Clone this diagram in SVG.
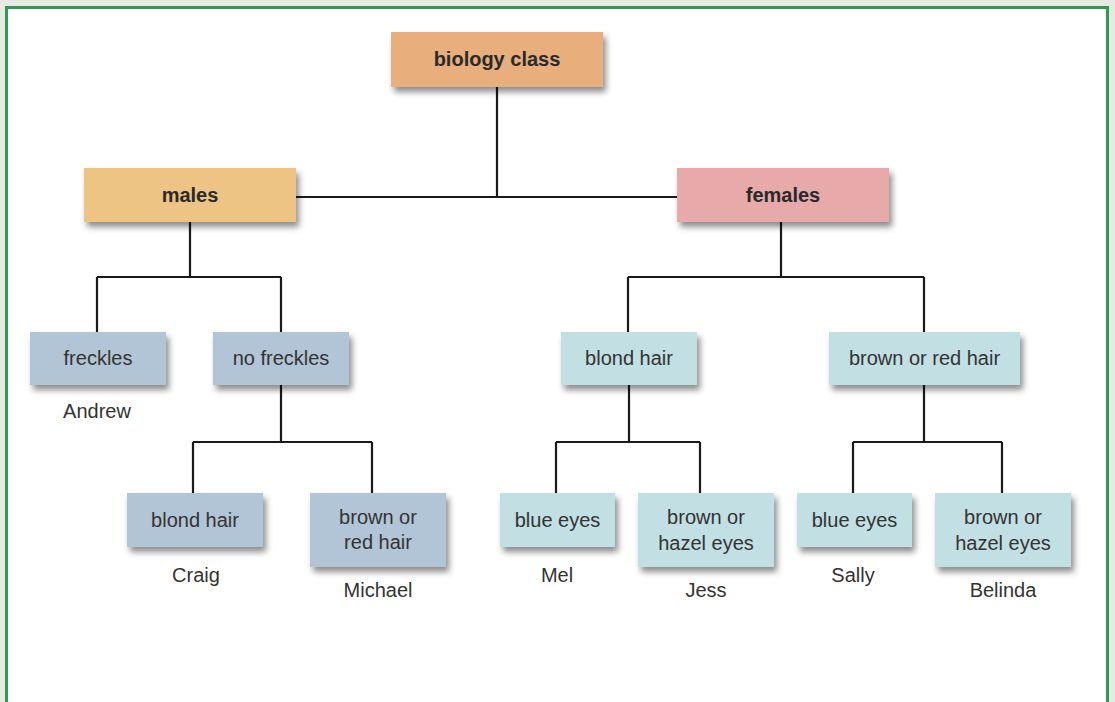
<svg xmlns="http://www.w3.org/2000/svg" width="1115" height="702" viewBox="0 0 1115 702">
<defs>
<filter id="sh" x="-10%" y="-20%" width="130%" height="160%">
<feDropShadow dx="3" dy="5" stdDeviation="3" flood-color="#000" flood-opacity="0.45"/>
</filter>
<style>
.b{filter:url(#sh)}
.t{font-family:"Liberation Sans",Arial,sans-serif;font-size:20px;fill:#333;text-anchor:middle}
.h{font-family:"Liberation Sans",Arial,sans-serif;font-size:20px;font-weight:bold;fill:#2a2a2a;text-anchor:middle}
.c{fill:none;stroke:#1a1a1a;stroke-width:2.2}
.blue{fill:#b2c5d6}
.teal{fill:#c2dfe3}
</style>
</defs>
<rect x="0" y="0" width="1115" height="702" fill="#e5ebe0"/>
<rect x="6.5" y="7.5" width="1101" height="720" fill="#fff" stroke="#2e9a55" stroke-width="3"/>
<g id="connectors" class="c">
<path d="M497 87V197M296 197H677"/>
<path d="M190 222V277M97 277H281M97 277V332M281 277V332"/>
<path d="M281 385V442M193 442H372M193 442V493M372 442V493"/>
<path d="M781 222V277M628 277H924M628 277V332M924 277V332"/>
<path d="M629 385V442M556 442H700M556 442V493M700 442V493"/>
<path d="M924 385V442M853 442H1002M853 442V493M1002 442V493"/>
</g>
<g id="biology-class"><rect class="b" x="391" y="32" width="212" height="55" fill="#e8ae7c"/><text class="h" x="497" y="66">biology class</text></g>
<g id="males"><rect class="b" x="84" y="168" width="212" height="54" fill="#eec484"/><text class="h" x="190" y="202">males</text></g>
<g id="females"><rect class="b" x="677" y="168" width="212" height="54" fill="#e8a9aa"/><text class="h" x="783" y="202">females</text></g>
<g id="freckles"><rect class="b blue" x="30" y="332" width="136" height="53"/><text class="t" x="98" y="365">freckles</text><text class="t" x="97" y="418">Andrew</text></g>
<g id="no-freckles"><rect class="b blue" x="213" y="332" width="136" height="53"/><text class="t" x="281" y="365">no freckles</text></g>
<g id="m-blond-hair"><rect class="b blue" x="127" y="493" width="136" height="54"/><text class="t" x="195" y="527">blond hair</text><text class="t" x="196" y="582">Craig</text></g>
<g id="m-brown-red-hair"><rect class="b blue" x="310" y="493" width="136" height="74"/><text class="t" x="378" y="524">brown or</text><text class="t" x="378" y="549">red hair</text><text class="t" x="378" y="597">Michael</text></g>
<g id="f-blond-hair"><rect class="b teal" x="561" y="332" width="136" height="53"/><text class="t" x="629" y="365">blond hair</text></g>
<g id="f-brown-red-hair"><rect class="b teal" x="829" y="332" width="191" height="53"/><text class="t" x="924.5" y="365">brown or red hair</text></g>
<g id="mel-blue-eyes"><rect class="b teal" x="500" y="493" width="115" height="54"/><text class="t" x="557.5" y="527">blue eyes</text><text class="t" x="557" y="582">Mel</text></g>
<g id="jess-brown-hazel"><rect class="b teal" x="638" y="493" width="136" height="74"/><text class="t" x="706" y="524">brown or</text><text class="t" x="706" y="550">hazel eyes</text><text class="t" x="706" y="597">Jess</text></g>
<g id="sally-blue-eyes"><rect class="b teal" x="797" y="493" width="115" height="54"/><text class="t" x="854.5" y="527">blue eyes</text><text class="t" x="853" y="582">Sally</text></g>
<g id="belinda-brown-hazel"><rect class="b teal" x="935" y="493" width="136" height="74"/><text class="t" x="1003" y="524">brown or</text><text class="t" x="1003" y="550">hazel eyes</text><text class="t" x="1003" y="597">Belinda</text></g>
</svg>
